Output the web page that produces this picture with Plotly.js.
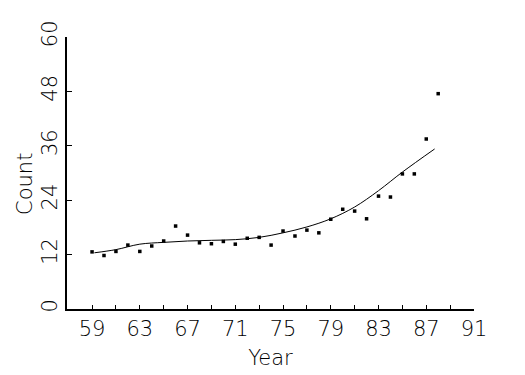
<!DOCTYPE html>
<html>
<head>
<meta charset="utf-8">
<script src="https://cdn.plot.ly/plotly-3.0.1.min.js"></script>
<style>html,body{margin:0;padding:0;background:#fff;}#chart{width:525px;height:375px;}</style>
</head>
<body>
<div id="chart"></div>
<script>
const years = [59,60,61,62,63,64,65,66,67,68,69,70,71,72,73,74,75,76,77,78,79,80,81,82,83,84,85,86,87,88];
const counts = [12.6,11.8,12.7,14.1,12.7,13.9,15.0,18.3,16.3,14.6,14.4,14.9,14.3,15.6,15.8,14.1,17.2,16.1,17.4,16.8,19.8,22.0,21.6,19.9,24.9,24.7,29.8,29.8,37.5,47.5];
const smoothYears = [59.2,61,63,65,67,69,71,73,75,77,79,81,83,85,87.7];
const smoothCounts = [12.4,13.1,14.3,14.7,15.0,15.15,15.3,15.8,16.8,18.1,19.9,22.5,26.1,30.2,35.3];
const xTickVals = [59,63,67,71,75,79,83,87,91];
const yTickVals = [0,12,24,36,48,60];

const fontFam = '"DejaVu Sans", sans-serif';
const fnt = {family: fontFam, size: 21, color: '#000', weight: 200};
const data = [
  {x: years, y: counts, mode: 'markers', type: 'scatter',
   marker: {symbol: 'square', size: 3.5, color: '#000'}, showlegend: false},
  {x: smoothYears, y: smoothCounts, mode: 'lines', type: 'scatter',
   line: {color: '#000', width: 1, shape: 'spline'}, showlegend: false}
];
const layout = {
  width: 525, height: 375,
  margin: {l: 67, r: 51, t: 37, b: 66},
  paper_bgcolor: '#fff', plot_bgcolor: '#fff',
  font: fnt,
  xaxis: {
    range: [56.9, 91], tickvals: xTickVals, ticktext: xTickVals.map(String),
    ticks: 'inside', ticklen: 4, tickwidth: 1, tickcolor: '#000',
    minor: {tickvals: [61,65,69,73,77,81,85,89], ticks: 'inside', ticklen: 4, tickwidth: 1, tickcolor: '#000'},
    showline: true, linewidth: 2, linecolor: '#000', showgrid: false, zeroline: false,
    tickfont: fnt,
    title: {text: 'Year', font: fnt, standoff: 10}
  },
  yaxis: {
    range: [0, 60], tickvals: yTickVals, ticktext: yTickVals.map(String),
    ticks: 'inside', ticklen: 5, tickwidth: 1, tickcolor: '#000', tickangle: -90,
    showline: true, linewidth: 2, linecolor: '#000', showgrid: false, zeroline: false,
    tickfont: fnt,
    title: {text: ''}
  },
  annotations: [{
    text: 'Count', xref: 'paper', yref: 'paper', x: -0.103, y: 0.46,
    xanchor: 'center', yanchor: 'middle', textangle: -90, showarrow: false, font: fnt
  }]
};
Plotly.newPlot('chart', data, layout, {staticPlot: true, displayModeBar: false});
</script>
</body>
</html>
